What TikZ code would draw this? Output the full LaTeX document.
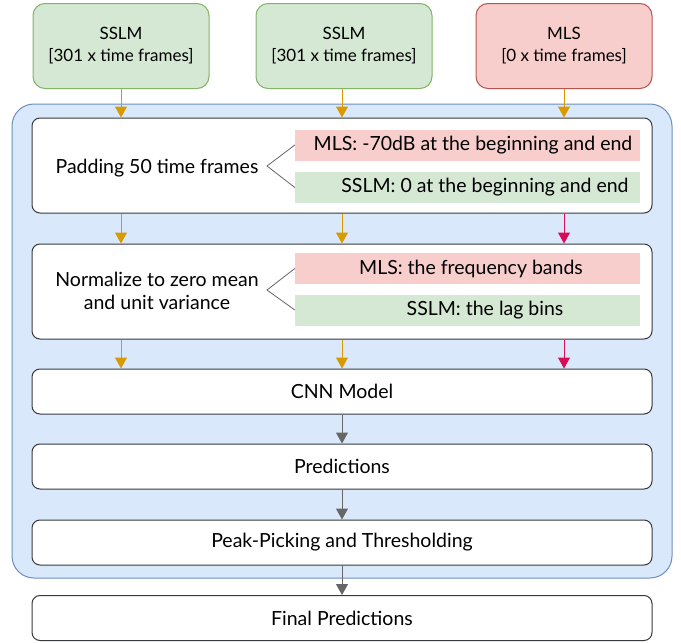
\documentclass[tikz,border=0pt]{standalone}
\usepackage{xcolor}
\usepackage{fontspec}
\setmainfont{Lato}
\usetikzlibrary{arrows.meta}
\definecolor{sslmfill}{RGB}{213,232,212}
\definecolor{sslmline}{RGB}{130,179,102}
\definecolor{mlsfill}{RGB}{248,206,204}
\definecolor{mlsline}{RGB}{184,84,80}
\definecolor{modelfill}{RGB}{218,232,252}
\definecolor{modelline}{RGB}{108,142,191}
\definecolor{feedsslm}{RGB}{215,155,0}
\definecolor{feedmls}{RGB}{216,12,88}
\definecolor{flow}{RGB}{102,102,102}
\definecolor{boxline}{RGB}{54,57,61}
\tikzstyle{input}=[draw,rounded corners=12pt,line width=1pt,minimum width=176pt,minimum height=85pt,align=center,font=\fontsize{17}{22}\selectfont]
\tikzstyle{sslm}=[fill=sslmfill,draw=sslmline]
\tikzstyle{mls}=[fill=mlsfill,draw=mlsline]
\tikzstyle{stage}=[draw=boxline,fill=white,rounded corners=8pt,line width=1pt,minimum width=620pt,minimum height=45pt]
\tikzstyle{tall}=[minimum height=95pt]
\tikzstyle{note}=[minimum width=345pt,minimum height=31pt,inner sep=0pt]
\tikzstyle{pipe}=[-{Triangle[width=12pt,length=11pt]},line width=1pt]
\tikzstyle{fork}=[draw=flow,line width=0.8pt]

\begin{document}
\begin{tikzpicture}[x=1pt,y=-1pt,font=\fontsize{19.5}{23.5}\selectfont]
  \useasboundingbox (0,0) rectangle (681,643);
  %% inputs
  \draw (121,46) node[input,sslm] (S1) {SSLM\\{}[301 x time frames]};
  \draw (344,46) node[input,sslm] (S2) {SSLM\\{}[301 x time frames]};
  \draw (564,46) node[input,mls] (M) {MLS\\{}[0 x time frames]};

  %% model frame
  \draw[fill=modelfill,draw=modelline,line width=1pt,rounded corners=22pt] (12,104) rectangle (672,578);

  \draw (342,165.5) node[stage,tall] (pad) {};
  \draw (157,168) node (padtext) {Padding 50 time frames};
  \draw (467.5,145) node[note,fill=mlsfill] (padmls) {\hspace{11pt}MLS: -70dB at the beginning and end};
  \draw (467.5,187.5) node[note,fill=sslmfill] (padsslm) {\hspace{35pt}SSLM: 0 at the beginning and end};
  \draw[fork] (padmls.west) -- (267,166) -- (padsslm.west);

  \draw (342,291.5) node[stage,tall] (norm) {};
  \draw (157,291) node[align=center] (normtext) {Normalize to zero mean\\and unit variance};
  \draw (467.5,268.5) node[note,fill=mlsfill] (normmls) {\hspace{7pt}MLS: the frequency bands};
  \draw (467.5,310) node[note,fill=sslmfill] (normsslm) {\hspace{35pt}SSLM: the lag bins};
  \draw[fork] (normmls.west) -- (267,290) -- (normsslm.west);

  \draw (342,391.5) node[stage] (cnn) {CNN Model};
  \draw (342,466.5) node[stage] (pred) {Predictions};
  \draw (342,542.5) node[stage] (peak) {Peak-Picking and Thresholding};
  \draw (342,618) node[stage] (final) {Final Predictions};

  %% feeding the inputs through
  \draw[pipe,color=feedsslm] (S1.south) -- (S1.south |- pad.north);
  \draw[pipe,color=feedsslm] (S2.south -| pred) -- (pad.north -| pred);
  \draw[pipe,color=feedsslm] (M.south) -- (M.south |- pad.north);

  \draw[pipe,color=feedsslm] (pad.south -| S1) -- (norm.north -| S1);
  \draw[pipe,color=feedsslm] (pad.south -| pred) -- (norm.north -| pred);
  \draw[pipe,color=feedmls] (pad.south -| M) -- (norm.north -| M);

  \draw[pipe,color=feedsslm] (norm.south -| S1) -- (cnn.north -| S1);
  \draw[pipe,color=feedsslm] (norm.south -| pred) -- (cnn.north -| pred);
  \draw[pipe,color=feedmls] (norm.south -| M) -- (cnn.north -| M);

  \draw[pipe,color=flow] (cnn) -- (pred);
  \draw[pipe,color=flow] (pred) -- (peak);
  \draw[pipe,color=flow] (peak) -- (final);
\end{tikzpicture}
\end{document}
